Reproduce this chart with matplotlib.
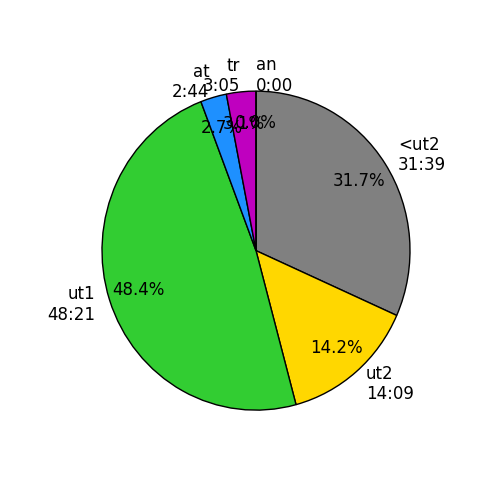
import matplotlib
matplotlib.use("Agg")
import matplotlib.pyplot as plt

labels = ["<ut2\n31:39", "ut2\n14:09", "ut1\n48:21", "at\n2:44", "tr\n3:05", "an\n0:00"]
minutes = [31 + 39/60, 14 + 9/60, 48 + 21/60, 2 + 44/60, 3 + 5/60, 0.0]
colors = ["gray", "gold", "limegreen", "dodgerblue", "m", "red"]

fig, ax = plt.subplots(figsize=(5, 5), dpi=100)
ax.pie(minutes, labels=labels, colors=colors, autopct="%1.1f%%",
       pctdistance=0.8, startangle=90, counterclock=False,
       wedgeprops={"edgecolor": "black", "linewidth": 1},
       textprops={"fontsize": 12})
# reference is slightly stretched vertically
ax.set_aspect("auto")
ax.set_position([0.127, 0.100, 0.77, 0.7975])
ax.set_xlim(-1.25, 1.25)
ax.set_ylim(-1.25, 1.25)
fig.savefig("out.png")
